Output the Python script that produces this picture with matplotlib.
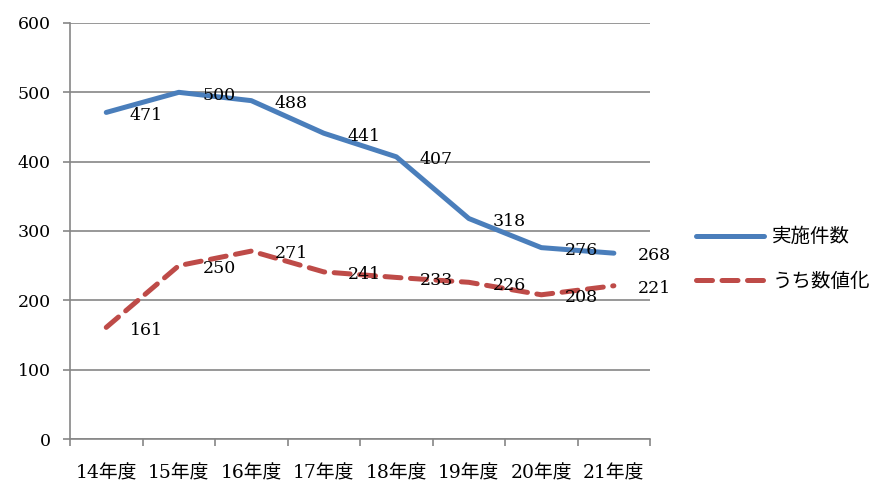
import matplotlib
matplotlib.use("Agg")
import matplotlib.pyplot as plt
from matplotlib.lines import Line2D

plt.rcParams["font.family"] = ["DejaVu Serif", "Noto Sans CJK JP"]

categories = ["14年度", "15年度", "16年度", "17年度", "18年度", "19年度", "20年度", "21年度"]
total = [471, 500, 488, 441, 407, 318, 276, 268]
numeric = [161, 250, 271, 241, 233, 226, 208, 221]
series_names = ["実施件数", "うち数値化"]

BLUE = "#4A7EBB"
RED = "#BE4B48"
GRID = "#868686"

fig = plt.figure(figsize=(8.75, 4.86), dpi=100)
ax = fig.add_axes([0.08, 0.0967, 0.663, 0.856])

x = list(range(len(categories)))
ax.plot(x, total, color=BLUE, linewidth=3.6, solid_capstyle="round",
        solid_joinstyle="round", zorder=3)
ax.plot(x, numeric, color=RED, linewidth=3.6, dashes=(3.2, 1.9),
        dash_capstyle="round", zorder=3)

for xi, v in zip(x, total):
    ax.annotate(str(v), (xi, v), xytext=(17, -2), textcoords="offset points",
                ha="left", va="center", fontsize=12.5, zorder=4)
for xi, v in zip(x, numeric):
    ax.annotate(str(v), (xi, v), xytext=(17, -2), textcoords="offset points",
                ha="left", va="center", fontsize=12.5, zorder=4)

ax.set_xlim(-0.5, len(categories) - 0.5)
ax.set_ylim(0, 600)
ax.set_yticks(range(0, 601, 100))
ax.yaxis.grid(True, color=GRID, linewidth=1.2)
ax.set_axisbelow(True)

# category ticks sit on the boundaries, labels in the middle
ax.set_xticks([i - 0.5 for i in range(len(categories) + 1)])
ax.set_xticklabels([])
ax.set_xticks(x, minor=True)
ax.set_xticklabels(categories, minor=True, fontsize=13.5)
ax.tick_params(axis="x", which="minor", length=0, pad=18)
ax.tick_params(axis="x", which="major", length=5, width=1.2, color=GRID, direction="out")
ax.tick_params(axis="y", length=5, width=1.2, color=GRID, direction="out", labelsize=12.5, pad=9)

for side in ("top", "right"):
    ax.spines[side].set_visible(False)
for side in ("left", "bottom"):
    ax.spines[side].set_color(GRID)
    ax.spines[side].set_linewidth(1.2)

handles = [
    Line2D([], [], color=BLUE, linewidth=3.6, solid_capstyle="round"),
    Line2D([], [], color=RED, linewidth=3.6, dashes=(3.2, 1.9), dash_capstyle="round"),
]
fig.legend(handles, series_names, loc="center left", bbox_to_anchor=(0.775, 0.467),
           frameon=False, handlelength=3.5, handletextpad=0.45,
           labelspacing=1.2, prop={"family": ["Noto Sans CJK JP"], "size": 14})

fig.savefig("out.png", dpi=100)
